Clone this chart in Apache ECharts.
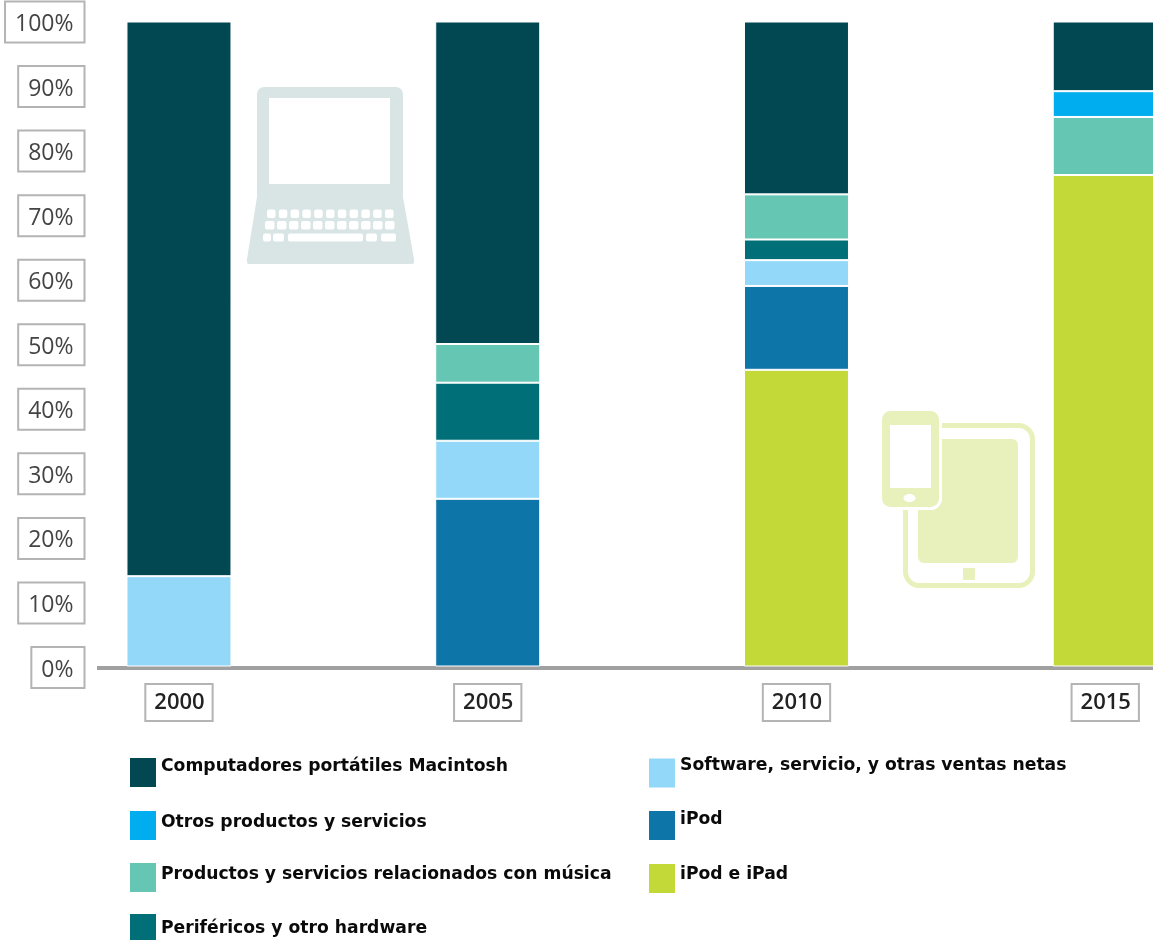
<!DOCTYPE html>
<html>
<head>
<meta charset="utf-8">
<style>html,body{margin:0;padding:0;background:#fff}#chart{width:1153px;height:940px}</style>
<script src="https://cdn.jsdelivr.net/npm/echarts@6/dist/echarts.min.js"></script>
</head>
<body>
<div id="chart"></div>
<script>
// Share of sales per product line, by year (percent).
const years = ['2000', '2005', '2010', '2015'];
const iPodIPad = [null, null, 46, 76.2];
const iPod = [null, 26, 13, null];
const software = [14, 9, 4, null];
const perifericos = [null, 9, 3.2, null];
const musica = [null, 6, 7, 9];
const otros = [null, null, null, 4];
const portatiles = [86, 50, 26.8, 10.8];

const NAME_PORTATILES = 'Computadores portátiles Macintosh';
const NAME_OTROS = 'Otros productos y servicios';
const NAME_MUSICA = 'Productos y servicios relacionados con música';
const NAME_PERIFERICOS = 'Periféricos y otro hardware';
const NAME_SOFTWARE = 'Software, servicio, y otras ventas netas';
const NAME_IPOD = 'iPod';
const NAME_IPOD_IPAD = 'iPod e iPad';

const stackSeries = [
  [NAME_IPOD_IPAD, iPodIPad, '#c3d938'],
  [NAME_IPOD, iPod, '#0e75a8'],
  [NAME_SOFTWARE, software, '#93d8f8'],
  [NAME_PERIFERICOS, perifericos, '#006f77'],
  [NAME_MUSICA, musica, '#66c6b4'],
  [NAME_OTROS, otros, '#00aeef'],
  [NAME_PORTATILES, portatiles, '#024852']
];

// One legend per row: name, left, swatch top, and how far the text sits above the swatch centre.
const legendRows = [
  [NAME_PORTATILES, 130, 759, 5.5],
  [NAME_OTROS, 130, 811, 3],
  [NAME_MUSICA, 130, 863, 3],
  [NAME_PERIFERICOS, 130, 914, 0],
  [NAME_SOFTWARE, 649, 760, 7.5],
  [NAME_IPOD, 649, 812, 5.5],
  [NAME_IPOD_IPAD, 649, 864, 4]
];

const LAPTOP = '#d9e5e5';
const DEVICE = '#e8f1bc';

// Rounded white keys of the laptop keyboard.
function key(x, y, width, height) {
  return { type: 'rect', shape: { x, y, width, height, r: 2 }, style: { fill: '#fff' } };
}
const keyRows = [];
for (let i = 0; i < 11; i++) {
  keyRows.push(key(267 + i * 11.8, 209.5, 8.5, 8.5));
  keyRows.push(key(265 + i * 12, 221, 9.5, 8.5));
}
[[263, 8], [273, 11], [288, 75], [366, 11], [381, 15]].forEach(k => keyRows.push(key(k[0], 233.5, k[1], 8)));

const laptopIcon = [
  { type: 'rect', shape: { x: 257, y: 87, width: 146, height: 120, r: 7 }, style: { fill: LAPTOP } },
  {
    type: 'polygon',
    shape: { points: [[259, 197], [401, 197], [412, 259], [412, 262], [249, 262], [249, 259]] },
    style: { fill: LAPTOP, stroke: LAPTOP, lineWidth: 4, lineJoin: 'round' }
  },
  { type: 'rect', shape: { x: 269, y: 98, width: 121, height: 86 }, style: { fill: '#fff' } }
].concat(keyRows);

const deviceIcon = [
  { type: 'rect', shape: { x: 905.5, y: 425.5, width: 127, height: 160, r: 14 }, style: { fill: 'none', stroke: DEVICE, lineWidth: 5 } },
  { type: 'rect', shape: { x: 918, y: 439, width: 100, height: 124, r: 6 }, style: { fill: DEVICE } },
  { type: 'rect', shape: { x: 963, y: 568, width: 12, height: 12, r: 1 }, style: { fill: DEVICE } },
  { type: 'rect', shape: { x: 880.5, y: 409.5, width: 60, height: 99, r: 10 }, style: { fill: DEVICE, stroke: '#fff', lineWidth: 3 } },
  { type: 'rect', shape: { x: 890, y: 425, width: 41, height: 63 }, style: { fill: '#fff' } },
  { type: 'ellipse', shape: { cx: 909.5, cy: 498, rx: 6, ry: 4 }, style: { fill: '#fff' } }
];

const LEGEND_TEXT_HEIGHT = 20;
const SWATCH_HEIGHT = 29;

function legendRow([name, left, top, lift]) {
  const overflow = Math.max(0, (LEGEND_TEXT_HEIGHT + 2 * lift - SWATCH_HEIGHT) / 2);
  return {
    data: [name],
    left,
    top: top - overflow,
    padding: 0,
    itemWidth: 26,
    itemHeight: SWATCH_HEIGHT,
    icon: 'rect',
    selectedMode: false,
    itemStyle: { borderWidth: 0 },
    formatter: n => '{t|' + n + '}',
    textStyle: {
      rich: {
        t: {
          fontFamily: '"DejaVu Sans"',
          fontWeight: 'bold',
          fontSize: 17.2,
          height: LEGEND_TEXT_HEIGHT,
          color: '#0a0a0a',
          padding: [0, 0, 2 * lift, 0]
        }
      }
    }
  };
}

const chart = echarts.init(document.getElementById('chart'), null, { renderer: 'canvas' });
chart.setOption({
  animation: false,
  backgroundColor: '#fff',
  grid: [
    // Bars: the plot runs off the right edge of the page, so the last column is cut.
    { left: 24.6, width: 1235, top: 21.5, height: 645, outerBoundsMode: 'none' },
    // Percent labels and the baseline.
    { left: 97, right: 0, top: 22, height: 645.5, outerBoundsMode: 'none' }
  ],
  legend: legendRows.map(legendRow),
  xAxis: [
    {
      type: 'category',
      gridIndex: 0,
      data: years,
      axisLine: { show: false },
      axisTick: { show: false },
      axisLabel: {
        margin: 18.5,
        fontFamily: '"Open Sans"',
        fontSize: 22,
        fontWeight: 600,
        color: '#222',
        backgroundColor: '#fff',
        borderColor: '#b4b4b4',
        borderWidth: 2,
        padding: [7, 7, 6, 8]
      }
    },
    {
      type: 'value',
      gridIndex: 1,
      min: 0,
      max: 1,
      splitLine: { show: false },
      axisLine: { show: true, lineStyle: { color: '#a0a0a0', width: 4, cap: 'butt' } },
      axisTick: { show: false },
      axisLabel: { show: false }
    }
  ],
  yAxis: [
    { type: 'value', gridIndex: 0, min: 0, max: 100, show: false },
    {
      type: 'value',
      gridIndex: 1,
      min: 0,
      max: 100,
      interval: 10,
      splitLine: { show: false },
      axisLine: { show: false },
      axisTick: { show: false },
      axisLabel: {
        // A thin empty first line sits the figures a little below the middle of the box.
        formatter: v => '{s| }\n{t|' + v + '%}',
        margin: 13.5,
        backgroundColor: '#fff',
        borderColor: '#b4b4b4',
        borderWidth: 2,
        padding: [4, 10, 4, 9],
        rich: {
          s: { height: 5, fontSize: 4 },
          t: { height: 26, fontFamily: '"Open Sans"', fontSize: 23, color: '#444' }
        }
      }
    }
  ],
  series: stackSeries.map(([name, data, color]) => ({
    name,
    type: 'bar',
    stack: 'total',
    xAxisIndex: 0,
    yAxisIndex: 0,
    barWidth: 105,
    itemStyle: { color, borderColor: '#fff', borderWidth: 1 },
    data
  })),
  graphic: [
    { type: 'group', silent: true, children: laptopIcon },
    { type: 'group', silent: true, children: deviceIcon }
  ]
});
</script>
</body>
</html>
